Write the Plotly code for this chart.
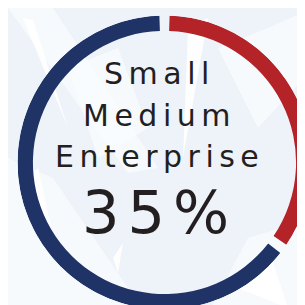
import plotly.graph_objects as go

labels = ["Small Medium Enterprise", "Other"]
values = [35, 65]
colors = ["#b42328", "#1f3366"]
title_lines = ["Small", "Medium", "Enterprise"]
pct_label = "35%"

BG = "#eef2f9"
GAP_DEG = 4.0
INNER = 0.895

total = float(sum(values))
thetas, widths = [], []
start = 0.0
for v in values:
    span = v / total * 360.0
    thetas.append(start + span / 2)
    widths.append(span - GAP_DEG)
    start += span

fig = go.Figure()
fig.add_trace(go.Barpolar(
    theta=thetas, r=[1 - INNER] * len(values), base=[INNER] * len(values),
    width=widths, marker=dict(color=colors, line=dict(width=0)),
    hoverinfo="none", showlegend=False, text=labels,
))

H = 305.0
cx, cy, R = 156.5, 154.5, 147.0


def path(pts):
    s = "M " + " L ".join(f"{x/H:.4f} {1 - y/H:.4f}" for x, y in pts) + " Z"
    return s


# faint background shards (pixel coordinates)
light = [
    [(0, 150), (45, 170), (120, 280), (160, 305), (0, 305)],
    [(0, 0), (45, 0), (150, 160), (120, 165)],
    [(200, 305), (240, 230), (305, 210), (305, 305)],
    [(210, 40), (260, 20), (305, 0), (305, 60), (250, 120)],
    [(60, 60), (110, 40), (140, 120), (90, 150)],
]
white = [
    [(15, 10), (25, 12), (60, 120)],
    [(180, 20), (200, 10), (175, 150)],
    [(230, 280), (260, 240), (280, 300)],
    [(20, 170), (30, 160), (50, 250)],
    [(105, 250), (115, 235), (110, 265)],
]
shapes = [dict(type="path", path=path(p), xref="paper", yref="paper", layer="below",
               fillcolor="rgba(248,251,254,0.85)", line=dict(width=0)) for p in light]
shapes += [dict(type="path", path=path(p), xref="paper", yref="paper", layer="below",
                fillcolor="rgba(255,255,255,0.9)", line=dict(width=0)) for p in white]

font = "DejaVu Sans"
TS, TSP = 30, 5.5
PS, PSP = 59, 8
ys = [73 - 8, 115 - 8, 156 - 8]
anns = []
for t, y in zip(title_lines, ys):
    anns.append(dict(text=f'<span style="letter-spacing:{TSP}px">{t}</span>',
                     x=151/H, y=1 - y/H, xref="paper", yref="paper",
                     showarrow=False, xanchor="center", yanchor="middle",
                     font=dict(family=font, size=TS, color="#231f20")))
anns.append(dict(text=f'<span style="letter-spacing:{PSP}px">{pct_label}</span>',
                 x=151/H, y=1 - (211 - 7)/H, xref="paper", yref="paper",
                 showarrow=False, xanchor="center", yanchor="middle",
                 font=dict(family=font, size=PS, color="#231f20")))

fig.update_layout(
    width=305, height=305, margin=dict(l=0, r=0, t=0, b=0),
    paper_bgcolor=BG, plot_bgcolor=BG, shapes=shapes, annotations=anns,
    polar=dict(
        domain=dict(x=[(cx - R)/H, (cx + R)/H], y=[1 - (cy + R)/H, 1 - (cy - R)/H]),
        bgcolor="rgba(0,0,0,0)", hole=0, bargap=0,
        radialaxis=dict(range=[0, 1], visible=False, showgrid=False),
        angularaxis=dict(rotation=90, direction="clockwise", visible=False, showgrid=False),
    ),
)
fig.write_html("out.html")
